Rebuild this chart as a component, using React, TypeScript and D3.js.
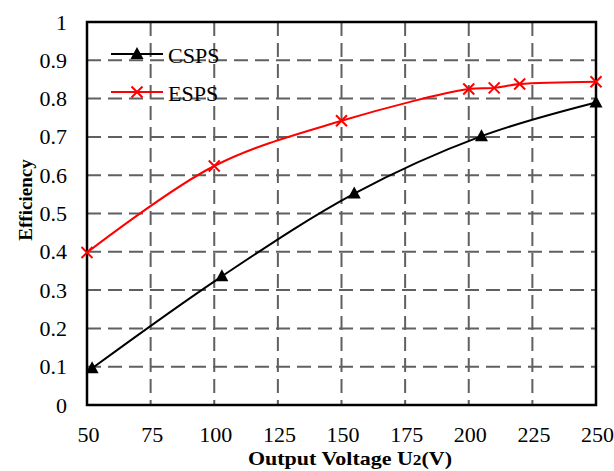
import React from "react";
import * as d3 from "d3";

const xTicks = [50, 75, 100, 125, 150, 175, 200, 225, 250];
const yTicks = [0, 0.1, 0.2, 0.3, 0.4, 0.5, 0.6, 0.7, 0.8, 0.9, 1];
const cspsX = [52, 103, 155, 205, 250];
const cspsY = [0.096, 0.336, 0.552, 0.702, 0.79];
const espsX = [50, 100, 150, 200, 210, 220, 250];
const espsY = [0.398, 0.624, 0.742, 0.825, 0.828, 0.838, 0.844];

export default function App() {
  const W = 614, H = 471;
  const L = 87, R = 596, T = 22, B = 405;
  const x = d3.scaleLinear().domain([50, 250]).range([L, R]);
  const y = d3.scaleLinear().domain([0, 1]).range([B, T]);
  const line = d3
    .line<[number, number]>()
    .x((d) => x(d[0]))
    .y((d) => y(d[1]))
    .curve(d3.curveCatmullRom.alpha(0.5));
  const csps = cspsX.map((v, i) => [v, cspsY[i]] as [number, number]);
  const esps = espsX.map((v, i) => [v, espsY[i]] as [number, number]);
  const fstyle = { fontFamily: '"Liberation Serif", "Times New Roman", serif' };
  const tri = (cx: number, cy: number, k: string) => (
    <path key={k} d={`M${cx},${cy - 7}L${cx + 6.5},${cy + 5}L${cx - 6.5},${cy + 5}Z`} fill="#000" />
  );
  const cross = (cx: number, cy: number, k: string) => (
    <path key={k} d={`M${cx - 5.5},${cy - 5.5}L${cx + 5.5},${cy + 5.5}M${cx - 5.5},${cy + 5.5}L${cx + 5.5},${cy - 5.5}`} stroke="#ff0000" strokeWidth={2} />
  );
  return (
    <svg width={W} height={H} style={{ position: "absolute", left: 0, top: 0, background: "#fff" }}>
      <rect width={W} height={H} fill="#fff" />
      {xTicks.slice(1, -1).map((t) => (
        <line key={"gx" + t} x1={x(t)} x2={x(t)} y1={T} y2={B} stroke="#606060" strokeWidth={2} strokeDasharray="14,7" />
      ))}
      {yTicks.slice(1, -1).map((t) => (
        <line key={"gy" + t} x1={L} x2={R} y1={y(t)} y2={y(t)} stroke="#606060" strokeWidth={2} strokeDasharray="14,7" />
      ))}
      <rect x={L} y={T} width={R - L} height={B - T} fill="none" stroke="#000" strokeWidth={2.5} />
      <g style={fstyle} fontSize={22} fill="#000">
        {yTicks.map((t) => (
          <text key={"ty" + t} x={67} y={y(t) + 7.5} textAnchor="end">
            {String(t)}
          </text>
        ))}
        {xTicks.map((t) => (
          <text key={"tx" + t} x={x(t) + 1.5} y={442} textAnchor="middle">
            {t}
          </text>
        ))}
        <text x={248} y={465} fontSize={19} fontWeight="bold" textLength={204} lengthAdjust="spacingAndGlyphs">
          Output Voltage U<tspan fontSize={15}>2</tspan>(V)
        </text>
        <text transform={`translate(32,200) rotate(-90)`} textAnchor="middle" fontSize={19} fontWeight="bold">
          Efficiency
        </text>
        <text x={168} y={63} fontSize={22}>CSPS</text>
        <text x={168} y={101} fontSize={22}>ESPS</text>
      </g>
      <path d={line(esps) || ""} fill="none" stroke="#ff0000" strokeWidth={2} />
      <path d={line(csps) || ""} fill="none" stroke="#000" strokeWidth={2} />
      {esps.map((d, i) => cross(x(d[0]), y(d[1]), "e" + i))}
      {csps.map((d, i) => tri(x(d[0]), y(d[1]), "c" + i))}
      <line x1={111} x2={163} y1={54} y2={54} stroke="#000" strokeWidth={2} />
      {tri(137, 54, "lc")}
      <line x1={111} x2={163} y1={92} y2={92} stroke="#ff0000" strokeWidth={2} />
      {cross(137, 92, "le")}
    </svg>
  );
}
